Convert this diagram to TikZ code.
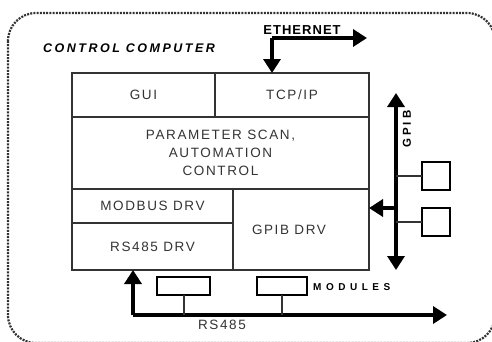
\documentclass[tikz,border=0pt]{standalone}
\usepackage{fontspec}
\setmainfont{Liberation Sans}
\usetikzlibrary{arrows.meta}
\definecolor{linegray}{HTML}{333333}
\begin{document}
\begin{tikzpicture}[x=1pt,y=-1pt,
  box/.style={draw=linegray,line width=2pt,inner sep=0pt,outer sep=0pt,anchor=north west,
    align=center,text=linegray,font=\fontsize{13.5}{18}\selectfont\addfontfeatures{LetterSpace=12}},
  bus/.style={line width=3.5pt,black},
  tip/.tip={Triangle[width=17pt,length=14pt]},
  inst/.style={draw=black,line width=2pt,minimum width=28pt,minimum height=28pt,inner sep=0pt,outer sep=0pt},
  modbox/.style={draw=black,line width=2pt,minimum height=18pt,inner sep=0pt,outer sep=0pt},
  conn/.style={draw=linegray,line width=2pt},
  border/.style={draw=linegray,line width=2.2pt,dash pattern=on 2pt off 1.2pt,rounded corners=28pt},
  blabel/.style={font=\bfseries\fontsize{13}{14}\selectfont\addfontfeatures{LetterSpace=8},inner sep=0pt}
]
\useasboundingbox (0,0) rectangle (492,341);
\draw[border] (8,13) rectangle (495,343);

\node[box,minimum width=143pt,minimum height=44pt] (gui) at (72,73) {GUI};
\node[box,minimum width=154pt,minimum height=44pt] (tcp) at (215,73) {TCP/IP};
\node[box,minimum width=297pt,minimum height=72pt] (param) at (72,117) {PARAMETER SCAN,\\AUTOMATION\\CONTROL};
\node[box,minimum width=161pt,minimum height=34pt] (modbus) at (72,189) {MODBUS DRV};
\node[box,minimum width=161pt,minimum height=47pt] (rsdrv) at (72,223) {RS485 DRV};
\node[box,minimum width=136pt,minimum height=81pt] (gpdrv) at (233,189) {GPIB DRV\hspace*{24pt}};

\node[font=\bfseries\itshape\fontsize{12.5}{14}\selectfont\addfontfeatures{LetterSpace=20},inner sep=0pt] (cc) at (129,48) {CONTROL COMPUTER};
\node[blabel] (eth) at (302,30) {ETHERNET};

% Ethernet
\coordinate (ethc) at (272,38);
\coordinate (ethe) at (367,38);
\draw[bus,-tip] (ethc) -- (ethe);
\draw[bus,-tip] (ethc) -- (ethc |- tcp.north);

% GPIB bus
\coordinate (gt) at (396,93);
\coordinate (gb) at (396,270);
\draw[bus,tip-tip] (gt) -- (gb);
\node[font=\bfseries\fontsize{11.5}{12}\selectfont\addfontfeatures{LetterSpace=25},inner sep=0pt,rotate=90] (gpiblab) at (407,129) {GPIB};
\coordinate (ga) at (396,208);
\draw[bus,-tip] (ga) -- (ga -| gpdrv.east);
\node[inst] (i1) at (436,176) {};
\node[inst] (i2) at (436,222) {};
\draw[conn] (i1.west) -- (i1.west -| gt);
\draw[conn] (i2.west) -- (i2.west -| gt);

% RS485 bus
\coordinate (rc) at (133,315);
\coordinate (re) at (447,315);
\draw[bus,-tip] (rc) -- (re);
\draw[bus,-tip] (rc) -- (rc |- rsdrv.south);
\node[modbox,minimum width=53pt] (m1) at (183.5,286) {};
\node[modbox,minimum width=50pt] (m2) at (282,286) {};
\draw[conn] (m1.south) -- (m1.south |- rc);
\draw[conn] (m2.south) -- (m2.south |- rc);
\node[font=\bfseries\fontsize{10}{11}\selectfont\addfontfeatures{LetterSpace=45},inner sep=0pt,anchor=west] (modlab) at (313,287) {MODULES};
\node[font=\fontsize{13.5}{14}\selectfont\addfontfeatures{LetterSpace=12},text=linegray,inner sep=0pt] (rslab) at (222,325) {RS485};
\end{tikzpicture}
\end{document}
